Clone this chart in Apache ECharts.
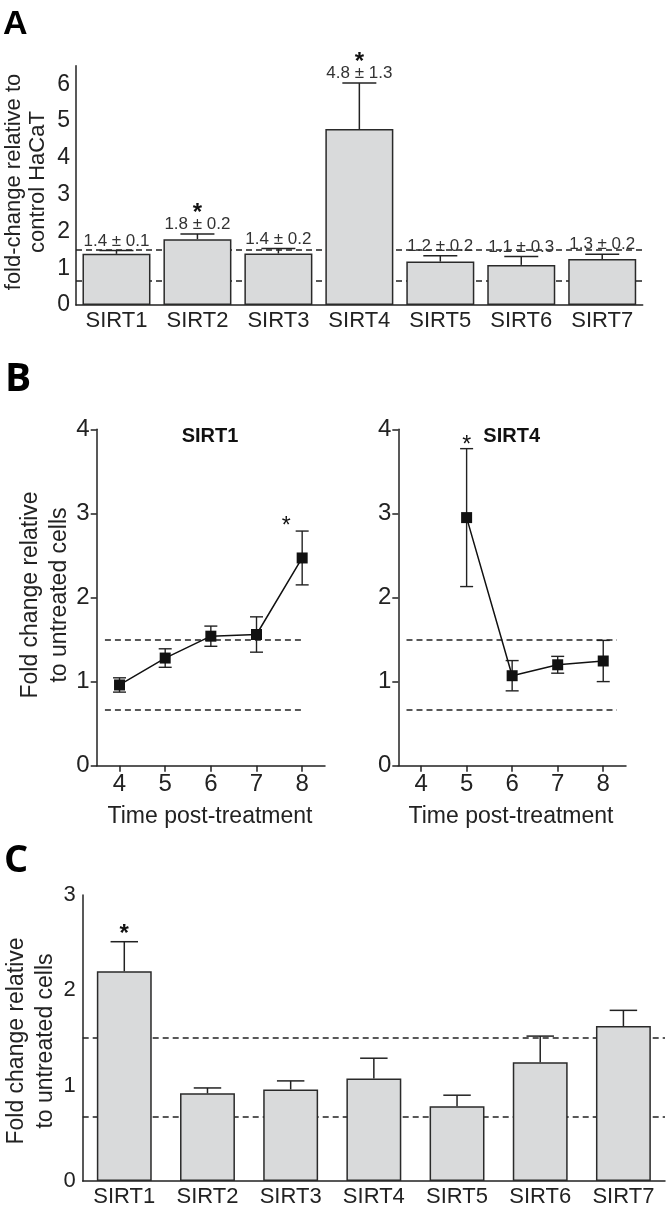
<!DOCTYPE html>
<html>
<head>
<meta charset="utf-8">
<title>SIRT expression</title>
<script src="https://cdn.jsdelivr.net/npm/echarts@6.0.0/dist/echarts.min.js"></script>
<style>
  html, body { margin: 0; padding: 0; background: #fff; }
  #chart { width: 669px; height: 1210px; }
</style>
</head>
<body>
<div id="chart"></div>
<script>
  // ---- data ----
  var sirtNames = ['SIRT1', 'SIRT2', 'SIRT3', 'SIRT4', 'SIRT5', 'SIRT6', 'SIRT7'];

  // panel A: fold-change relative to control HaCaT
  var aMean = [1.39, 1.79, 1.40, 4.78, 1.18, 1.09, 1.25];
  var aErr = [0.09, 0.14, 0.135, 1.25, 0.16, 0.225, 0.13];
  var aText = ['1.4 \u00b1 0.1', '1.8 \u00b1 0.2', '1.4 \u00b1 0.2', '4.8 \u00b1 1.3', '1.2 \u00b1 0.2', '1.1 \u00b1 0.3', '1.3 \u00b1 0.2'];
  var aStar = ['', '*', '', '*', '', '', ''];
  var aYTicks = [0, 1, 2, 3, 4, 5, 6];

  // cut-off lines used in all panels
  var upperCut = 1.5;
  var lowerCut = 0.67;

  // panel B: time course
  var timeTicks = [4, 5, 6, 7, 8];
  var sirt1Time = [4, 5, 6, 7, 8];
  var sirt1Mean = [0.96, 1.28, 1.54, 1.56, 2.47];
  var sirt1Err = [0.085, 0.11, 0.12, 0.21, 0.32];
  var sirt1Star = [[7.65, 2.84]];
  var sirt4Time = [5, 6, 7, 8];
  var sirt4Mean = [2.95, 1.07, 1.20, 1.245];
  var sirt4Err = [0.82, 0.18, 0.10, 0.245];
  var sirt4Star = [[5, 3.81]];

  // panel C
  var cMean = [2.20, 0.92, 0.96, 1.075, 0.785, 1.245, 1.625];
  var cErr = [0.31, 0.056, 0.09, 0.213, 0.115, 0.275, 0.165];
  var cStar = ['*', '', '', '', '', '', ''];

  // ---- styles ----
  var FONT = '"Liberation Sans", Arial, Helvetica, sans-serif';
  var INK = '#222';
  var BAR_FILL = '#d9dadb';
  var A_GAP = 0.16, C_GAP = 0.34;

  function pairs(xs, ys, es) {
    return xs.map(function (x, i) { return [x, ys[i], es[i]]; });
  }

  // error bar (upper only) + optional text and star above it
  function barErrorRender(gap, texts, stars, starFont, starLift) {
    return function (params, api) {
      var i = params.dataIndex;
      var x = api.value(0), m = api.value(1), e = api.value(2);
      var p0 = api.coord([x, m]);
      var p1 = api.coord([x, m + e]);
      var cap = api.size([1, 0])[0] * (1 - gap) / 4;
      var st = { stroke: INK, lineWidth: 1.5 };
      var kids = [
        { type: 'line', shape: { x1: p0[0], y1: p0[1], x2: p1[0], y2: p1[1] }, style: st },
        { type: 'line', shape: { x1: p1[0] - cap, y1: p1[1], x2: p1[0] + cap, y2: p1[1] }, style: st }
      ];
      if (texts) {
        kids.push({
          type: 'text', x: p1[0], y: p1[1] - 1,
          style: { text: texts[i], font: '17px ' + FONT, fill: '#333', textAlign: 'center', textVerticalAlign: 'bottom' }
        });
      }
      if (stars[i]) {
        kids.push({
          type: 'text', x: p1[0], y: p1[1] - starLift,
          style: { text: stars[i], font: starFont, fill: '#111', textAlign: 'center', textVerticalAlign: 'middle' }
        });
      }
      return { type: 'group', children: kids };
    };
  }

  // symmetric error bars for the time course
  function pointErrorRender(params, api) {
    var x = api.value(0), m = api.value(1), e = api.value(2);
    var lo = api.coord([x, m - e]);
    var hi = api.coord([x, m + e]);
    var cap = 6.5;
    var st = { stroke: INK, lineWidth: 1.4 };
    return {
      type: 'group',
      children: [
        { type: 'line', shape: { x1: lo[0], y1: lo[1], x2: hi[0], y2: hi[1] }, style: st },
        { type: 'line', shape: { x1: hi[0] - cap, y1: hi[1], x2: hi[0] + cap, y2: hi[1] }, style: st },
        { type: 'line', shape: { x1: lo[0] - cap, y1: lo[1], x2: lo[0] + cap, y2: lo[1] }, style: st }
      ]
    };
  }

  function starRender(params, api) {
    var p = api.coord([api.value(0), api.value(1)]);
    return {
      type: 'text', x: p[0], y: p[1],
      style: { text: '*', font: '23px ' + FONT, fill: '#111', textAlign: 'center', textVerticalAlign: 'middle' }
    };
  }

  function cutLines(from, to) {
    var dashed = { color: INK, width: 1.5, type: [6, 4] };
    var data;
    if (from === undefined) {
      data = [{ yAxis: upperCut }, { yAxis: lowerCut }];
    } else {
      data = [
        [{ coord: [from, upperCut] }, { coord: [to, upperCut] }],
        [{ coord: [from, lowerCut] }, { coord: [to, lowerCut] }]
      ];
    }
    return {
      silent: true, z: 1, symbol: ['none', 'none'],
      label: { show: false }, lineStyle: dashed, emphasis: { disabled: true },
      data: data
    };
  }

  var axisLine = { show: true, lineStyle: { color: INK, width: 1.5 } };
  var axisTickStyle = { color: INK, width: 1.5 };

  function timeAxis(grid) {
    return {
      gridIndex: grid, type: 'value', min: 3.5, max: 8.5,
      axisLine: axisLine, splitLine: { show: false },
      axisTick: { customValues: timeTicks, length: 6, lineStyle: axisTickStyle },
      axisLabel: { customValues: timeTicks, fontSize: 24, margin: 7, color: INK, fontFamily: FONT }
    };
  }
  function foldAxis(grid) {
    return {
      gridIndex: grid, type: 'value', min: 0, max: 4, interval: 1,
      axisLine: axisLine, splitLine: { show: false },
      axisTick: { length: 6, lineStyle: axisTickStyle },
      axisLabel: { fontSize: 24, margin: 7, color: INK, fontFamily: FONT }
    };
  }

  var chart = echarts.init(document.getElementById('chart'), null, { renderer: 'canvas' });

  var option = {
    animation: false,
    backgroundColor: '#fff',
    textStyle: { fontFamily: FONT },
    grid: [
      { left: 76, top: 65.8, width: 566.7, height: 239.2 },
      { left: 96.7, top: 429.3, width: 228.3, height: 336.4 },
      { left: 398.3, top: 429.3, width: 227.7, height: 336.4 },
      { left: 82.7, top: 895, width: 582.3, height: 286 }
    ],
    xAxis: [
      {
        gridIndex: 0, type: 'category', data: sirtNames,
        axisLine: axisLine, axisTick: { show: false },
        axisLabel: { fontSize: 22, margin: 5, color: INK, fontFamily: FONT }
      },
      timeAxis(1),
      timeAxis(2),
      {
        gridIndex: 3, type: 'category', data: sirtNames,
        axisLine: axisLine,
        axisTick: { alignWithLabel: true, length: 5, lineStyle: axisTickStyle },
        axisLabel: { fontSize: 22, margin: 5, color: INK, fontFamily: FONT }
      }
    ],
    yAxis: [
      {
        gridIndex: 0, type: 'value', min: 0, max: 6.5, interval: 1,
        axisLine: axisLine, splitLine: { show: false },
        axisTick: { customValues: aYTicks, length: 5, lineStyle: axisTickStyle },
        axisLabel: { customValues: aYTicks, fontSize: 23, margin: 6, color: INK, fontFamily: FONT }
      },
      foldAxis(1),
      foldAxis(2),
      {
        gridIndex: 3, type: 'value', min: 0, max: 3, interval: 1,
        axisLine: axisLine, splitLine: { show: false },
        axisTick: { length: 5, lineStyle: axisTickStyle },
        axisLabel: { fontSize: 22, margin: 7, color: INK, fontFamily: FONT }
      }
    ],
    graphic: [
      { type: 'text', left: 3, top: 8, style: { text: 'A', font: 'bold 34px ' + FONT, fill: '#000' } },
      { type: 'text', left: 5, top: 360, style: { text: 'B', font: 'bold 39px "Open Sans", ' + FONT, fill: '#000' } },
      { type: 'text', left: 4, top: 842, style: { text: 'C', font: 'bold 38px "Open Sans", ' + FONT, fill: '#000' } },
      {
        type: 'text', x: 26, y: 182, rotation: Math.PI / 2,
        style: { text: 'fold-change relative to\ncontrol HaCaT', font: '22px ' + FONT, lineHeight: 24, fill: INK, textAlign: 'center', textVerticalAlign: 'middle' }
      },
      {
        type: 'text', x: 45, y: 595, rotation: Math.PI / 2,
        style: { text: 'Fold change relative\nto untreated cells', font: '23px ' + FONT, lineHeight: 29, fill: INK, textAlign: 'center', textVerticalAlign: 'middle' }
      },
      {
        type: 'text', x: 31, y: 1041, rotation: Math.PI / 2,
        style: { text: 'Fold change relative\nto untreated cells', font: '23px ' + FONT, lineHeight: 29, fill: INK, textAlign: 'center', textVerticalAlign: 'middle' }
      },
      { type: 'text', x: 210, y: 436, style: { text: 'SIRT1', font: 'bold 20px ' + FONT, fill: '#111', textAlign: 'center', textVerticalAlign: 'middle' } },
      { type: 'text', x: 511.7, y: 436, style: { text: 'SIRT4', font: 'bold 20px ' + FONT, fill: '#111', textAlign: 'center', textVerticalAlign: 'middle' } },
      { type: 'text', x: 210, y: 817, style: { text: 'Time post-treatment', font: '23px ' + FONT, fill: INK, textAlign: 'center', textVerticalAlign: 'middle' } },
      { type: 'text', x: 511, y: 817, style: { text: 'Time post-treatment', font: '23px ' + FONT, fill: INK, textAlign: 'center', textVerticalAlign: 'middle' } }
    ],
    series: [
      // ---- A ----
      {
        type: 'bar', xAxisIndex: 0, yAxisIndex: 0, data: aMean, z: 2,
        barCategoryGap: (A_GAP * 100) + '%',
        itemStyle: { color: BAR_FILL, borderColor: '#2a2a2a', borderWidth: 1.5 },
        markLine: cutLines()
      },
      {
        type: 'custom', xAxisIndex: 0, yAxisIndex: 0, z: 3,
        data: pairs(aMean.map(function (v, i) { return i; }), aMean, aErr),
        renderItem: barErrorRender(A_GAP, aText, aStar, 'bold 24px ' + FONT, 21)
      },
      // ---- B left ----
      {
        type: 'custom', xAxisIndex: 1, yAxisIndex: 1, z: 2,
        data: pairs(sirt1Time, sirt1Mean, sirt1Err),
        renderItem: pointErrorRender,
        markLine: cutLines(3.68, 8.03)
      },
      {
        type: 'line', xAxisIndex: 1, yAxisIndex: 1, z: 3,
        data: sirt1Time.map(function (t, i) { return [t, sirt1Mean[i]]; }),
        symbol: 'rect', symbolSize: 11,
        itemStyle: { color: '#111' }, lineStyle: { color: '#111', width: 1.5 }
      },
      { type: 'custom', xAxisIndex: 1, yAxisIndex: 1, z: 4, data: sirt1Star, renderItem: starRender },
      // ---- B right ----
      {
        type: 'custom', xAxisIndex: 2, yAxisIndex: 2, z: 2,
        data: pairs(sirt4Time, sirt4Mean, sirt4Err),
        renderItem: pointErrorRender,
        markLine: cutLines(3.68, 8.3)
      },
      {
        type: 'line', xAxisIndex: 2, yAxisIndex: 2, z: 3,
        data: sirt4Time.map(function (t, i) { return [t, sirt4Mean[i]]; }),
        symbol: 'rect', symbolSize: 11,
        itemStyle: { color: '#111' }, lineStyle: { color: '#111', width: 1.5 }
      },
      { type: 'custom', xAxisIndex: 2, yAxisIndex: 2, z: 4, data: sirt4Star, renderItem: starRender },
      // ---- C ----
      {
        type: 'bar', xAxisIndex: 3, yAxisIndex: 3, data: cMean, z: 2,
        barCategoryGap: (C_GAP * 100) + '%',
        itemStyle: { color: BAR_FILL, borderColor: '#2a2a2a', borderWidth: 1.5 },
        markLine: cutLines()
      },
      {
        type: 'custom', xAxisIndex: 3, yAxisIndex: 3, z: 3,
        data: pairs(cMean.map(function (v, i) { return i; }), cMean, cErr),
        renderItem: barErrorRender(C_GAP, null, cStar, 'bold 24px ' + FONT, 7)
      }
    ]
  };

  chart.setOption(option);
</script>
</body>
</html>
